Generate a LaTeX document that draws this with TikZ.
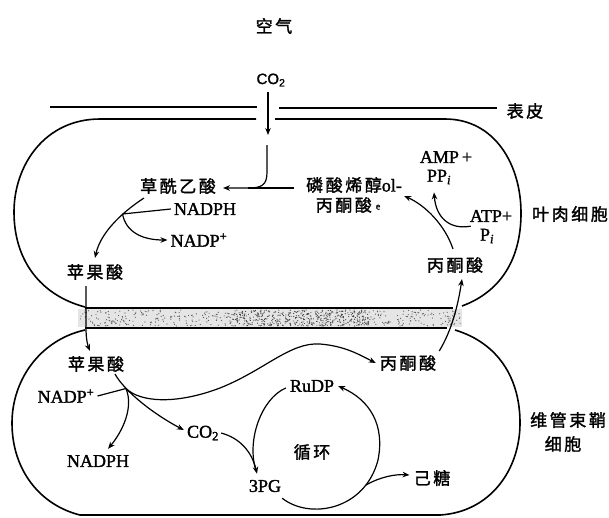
\documentclass[tikz,border=0pt]{standalone}
\usepackage{fontspec}
\setmainfont{Liberation Serif}[FakeBold=1.6]
\newfontfamily\cjk{Noto Sans CJK SC}[LetterSpace=15,FakeBold=1.6]
\newfontfamily\sansf{Liberation Sans}[FakeBold=1.4]
\usetikzlibrary{arrows.meta}
\begin{document}
\begin{tikzpicture}[x=1pt,y=-1pt,
  zh/.style={inner sep=0pt, font=\cjk\fontsize{17}{19}\selectfont},
  lt/.style={inner sep=0pt, font=\fontsize{18}{20}\selectfont},
  conn/.style={line width=1.2pt},
  arr/.style={line width=1.2pt,-{Stealth[length=7pt,width=5.5pt]}},
  cell/.style={line width=1.6pt}]
\useasboundingbox (0,0) rectangle (609,517);

% band between the cells
\fill[gray!20] (78,309) rectangle (462,327);
\pgfmathsetseed{42}
\foreach \i in {1,...,450}{\fill[black!65] ({80+380*rnd},{310+16*rnd}) circle (0.6);}
\foreach \i in {1,...,350}{\fill[black!75] ({230+140*rnd},{310+16*rnd}) circle (0.6);}
\draw[line width=1.8pt] (85,308) -- (453,308);
\draw[line width=1.8pt] (85,328) -- (447,328);

% cells
\draw[cell] (256,119) -- (100,119) .. controls (45,119) and (14,165) .. (14,212) .. controls (14,260) and (40,295) .. (85,307);
\draw[cell] (275,119) -- (445,119) .. controls (495,119) and (521,165) .. (521,213) .. controls (521,260) and (500,292) .. (462,306);
\draw[cell] (85,330) .. controls (40,340) and (12,380) .. (12,423) .. controls (12,470) and (40,505) .. (80,515) -- (440,515) .. controls (490,512) and (520,470) .. (520,423) .. controls (520,378) and (498,343) .. (455,330);

% epidermis
\draw[line width=1.3pt] (50,107) -- (257,107);
\draw[line width=1.3pt] (279,108) -- (497,108);

% labels
\node[zh] (air) at (274,26) {空气};
\node[inner sep=0pt,font=\sansf\fontsize{15}{17}\selectfont] (co2a) at (271,80) {CO\textsubscript{2}};
\node[zh] (epi) at (525,111) {表皮};
\node[zh] (oaa) at (178,186) {草酰乙酸};
\node[lt] (nadph1) at (205,209) {NADPH};
\node[lt] (nadp1) at (199,240) {NADP\textsuperscript{+}};
\node[zh] (mal1) at (95,272) {苹果酸};
\node[zh] (pep1) at (354,185) {磷酸烯醇{\rmfamily\fontsize{18}{20}\selectfont ol-}};
\node[zh] (pep2) at (348,205) {丙酮酸\hspace{4pt}\raisebox{2pt}{\rmfamily\fontsize{10}{10}\selectfont e}};
\node[lt] (amp) at (446,157) {AMP\,+};
\node[lt] (ppi) at (439,177) {PP\textsubscript{\textit{i}}};
\node[lt] (atp) at (491,216) {ATP+};
\node[lt] (pi) at (487,236) {P\textsubscript{\textit{i}}};
\node[zh] (pyr1) at (455,265) {丙酮酸};
\node[zh] (meso) at (570,214) {叶肉细胞};
\node[zh] (mal2) at (96,364) {苹果酸};
\node[lt] (nadp2) at (66,396) {NADP\textsuperscript{+}};
\node[lt] (nadph2) at (98,461) {NADPH};
\node[lt] (co2b) at (203,433) {CO\textsubscript{2}};
\node[lt] (pg) at (265,486) {3PG};
\node[lt] (rudp) at (312,386) {RuDP};
\node[zh] (cyc) at (312,452) {循环};
\node[zh] (hex) at (432,478) {己糖};
\node[zh] (pyr2) at (408,363) {丙酮酸};
\node[zh] (bss1) at (568,420) {维管束鞘};
\node[zh] (bss2) at (563,444) {细胞};

% junction points
\coordinate (co2in) at (268,135);
\coordinate (jc) at (267,145);
\coordinate (jm) at (248,188);
\coordinate (j1) at (122.5,214);
\coordinate (j2) at (126,388.5);
\coordinate (j3) at (366,485);

% upper cell connectors
\draw[arr] ([shift={(-3,5)}]co2a.south) -- (co2in);
\draw[arr] (jc) -- (267,172) .. controls (267,185) and (262,188) .. (jm) -- ([shift={(7,2)}]oaa.east);
\draw[conn] ([shift={(-12,3)}]pep1.west) -- (jm);
\draw[arr] ([shift={(4,4)}]oaa.south west) .. controls (118,215) and (100,235) .. ([shift={(0,-6)}]mal1.north);
\draw[conn] ([xshift=-3]nadph1.west) -- (j1);
\draw[arr] (j1) .. controls (126,232) and (142,240) .. ([xshift=-3]nadp1.west);
\draw[arr] ([shift={(-9,6)}]mal1.south) -- (86,328) .. controls (86,340) and (88,346) .. ([shift={(-6,-5)}]mal2.north);
\draw[arr] ([shift={(-2,-8)}]pyr1.north) .. controls (445,225) and (425,205) .. ([shift={(2,11)}]pep1.east);
\draw[arr] ([shift={(1,4)}]atp.south west) .. controls (450,230) and (436,218) .. ([shift={(-5,8)}]ppi.south);
\draw[arr] ([shift={(3,-4)}]pyr2.north east) .. controls (452,330) and (458,305) .. ([shift={(7,6)}]pyr1.south);

% lower cell connectors
\draw[arr] ([shift={(19,2)}]mal2.south) .. controls (125,392) and (155,415) .. ([shift={(-3,-3)}]co2b.west);
\draw[conn] ([xshift=3]nadp2.east) .. controls (112,393) .. (j2);
\draw[arr] (j2) .. controls (134,408) and (122,432) .. ([shift={(10,-6)}]nadph2.north);
\draw[arr] (j2) .. controls (140,402) and (175,405) .. (220,388) .. controls (265,370) and (290,342) .. (320,344) .. controls (345,346) and (360,355) .. ([xshift=-4]pyr2.west);
\draw[arr] ([xshift=2]co2b.east) .. controls (240,438) and (252,452) .. ([shift={(-8,-6)}]pg.north);
\draw[conn,shorten >=3pt] ([shift={(-4,2)}]rudp.west) .. controls (262,398) and (246,440) .. ([shift={(-8,-6)}]pg.north);
\draw[arr] ([shift={(1,6)}]pg.south east) .. controls (310,520) and (365,510) .. (378,460) .. controls (385,425) and (370,400) .. ([xshift=4]rudp.east);
\draw[arr] (j3) .. controls (380,477) and (395,474) .. ([shift={(-4,-3)}]hex.west);
\end{tikzpicture}
\end{document}
